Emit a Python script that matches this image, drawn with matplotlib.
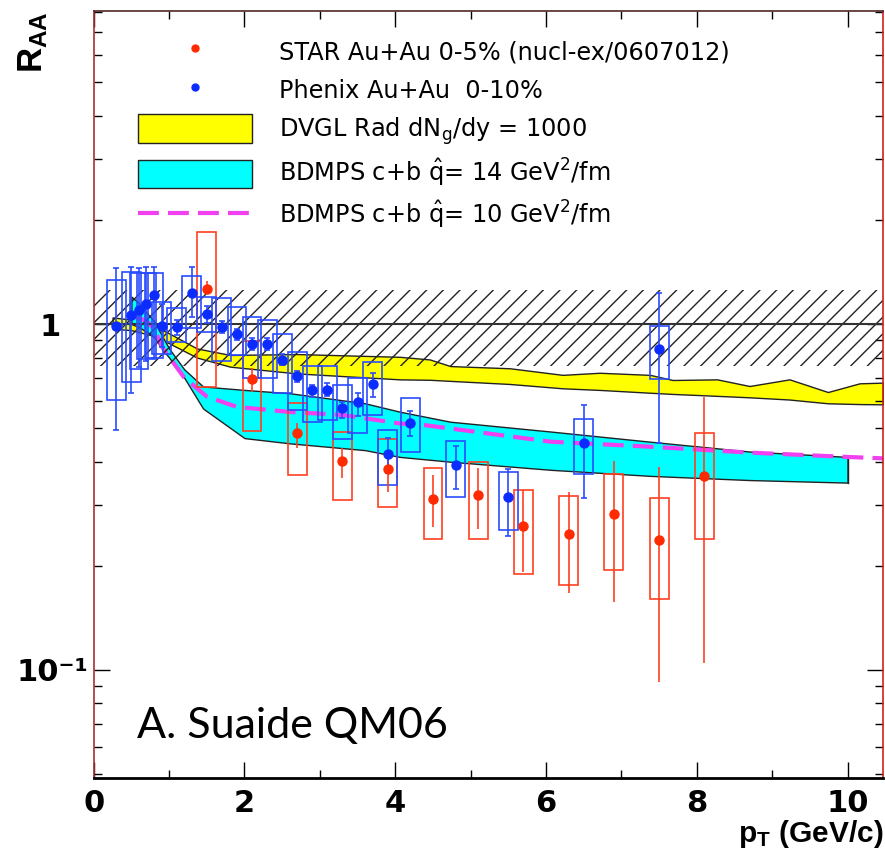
import numpy as np
import matplotlib
matplotlib.use("Agg")
import matplotlib.pyplot as plt
from matplotlib.lines import Line2D
from matplotlib.patches import Patch
from matplotlib.ticker import MultipleLocator, LogLocator, FixedLocator, FixedFormatter, NullFormatter

plt.rcParams['font.family'] = ['Liberation Sans', 'DejaVu Sans']
plt.rcParams['mathtext.fontset'] = 'custom'
plt.rcParams['mathtext.rm'] = 'DejaVu Sans'
plt.rcParams['mathtext.it'] = 'DejaVu Sans:italic'
plt.rcParams['mathtext.bf'] = 'Liberation Sans:bold'
plt.rcParams['hatch.linewidth'] = 1.0

# STAR Au+Au 0-5%
star_x = [1.5, 2.1, 2.7, 3.3, 3.9, 4.5, 5.1, 5.7, 6.3, 6.9, 7.5, 8.1]
star_y = [1.26, 0.694, 0.483, 0.402, 0.382, 0.313, 0.32, 0.26, 0.248, 0.282, 0.238, 0.364]
star_stat_lo = [1.22, 0.637, 0.437, 0.358, 0.327, 0.259, 0.255, 0.192, 0.167, 0.157, 0.092, 0.105]
star_stat_hi = [1.33, 0.745, 0.516, 0.437, 0.423, 0.366, 0.383, 0.331, 0.327, 0.403, 0.385, 0.617]
star_sys_lo = [0.659, 0.491, 0.365, 0.311, 0.296, 0.239, 0.239, 0.19, 0.176, 0.194, 0.16, 0.239]
star_sys_hi = [1.848, 0.893, 0.59, 0.488, 0.464, 0.383, 0.40, 0.331, 0.319, 0.368, 0.315, 0.483]

# PHENIX Au+Au 0-10%
phx_x = [0.3, 0.5, 0.6, 0.7, 0.8, 0.9, 1.1, 1.3, 1.5, 1.7, 1.9, 2.1, 2.3,
         2.5, 2.7, 2.9, 3.1, 3.3, 3.5, 3.7, 3.9, 4.2, 4.8, 5.5, 6.5, 7.5]
phx_y = [0.99, 1.06, 1.10, 1.14, 1.21, 0.99, 0.98, 1.23, 1.07, 0.98, 0.935, 0.873, 0.873,
         0.787, 0.708, 0.645, 0.645, 0.57, 0.594, 0.669, 0.42, 0.518, 0.391, 0.316, 0.452, 0.845]
phx_stat_lo = [0.494, 0.633, 0.75, 0.78, 0.80, 0.86, 0.93, 1.05, 1.01, 0.94, 0.90, 0.84, 0.84,
               0.76, 0.681, 0.614, 0.618, 0.534, 0.543, 0.616, 0.37, 0.474, 0.333, 0.244, 0.314, 0.452]
phx_stat_hi = [1.455, 1.465, 1.45, 1.46, 1.46, 1.14, 1.03, 1.465, 1.13, 1.02, 0.97, 0.91, 0.91,
               0.82, 0.733, 0.666, 0.676, 0.596, 0.631, 0.72, 0.467, 0.561, 0.445, 0.38, 0.583, 1.232]
phx_sys_lo = [0.603, 0.681, 0.74, 0.79, 0.80, 0.82, 0.89, 0.973, 0.95, 0.78, 0.814, 0.697, 0.697,
              0.633, 0.566, 0.522, 0.528, 0.465, 0.483, 0.546, 0.343, 0.427, 0.317, 0.254, 0.368, 0.695]
phx_sys_hi = [1.34, 1.416, 1.40, 1.40, 1.40, 1.16, 1.11, 1.376, 1.20, 1.19, 1.117, 1.045, 1.03,
              0.934, 0.828, 0.756, 0.756, 0.666, 0.697, 0.778, 0.495, 0.61, 0.46, 0.374, 0.53, 0.987]

# DVGL band
dvgl_x = [0.25, 0.5, 0.75, 1.0, 1.37, 1.81, 2.69, 4.06, 4.46, 4.73, 5.52, 6.22, 6.71,
          7.38, 7.68, 8.27, 8.70, 9.23, 9.74, 10.16, 10.47]
dvgl_hi = [1.045, 1.03, 1.0, 0.94, 0.85, 0.814, 0.819, 0.804, 0.79, 0.756, 0.745, 0.713, 0.723,
           0.713, 0.689, 0.692, 0.662, 0.692, 0.636, 0.674, 0.677]
dvgl_lo = [0.97, 0.96, 0.93, 0.88, 0.80, 0.753, 0.72, 0.692, 0.69, 0.685, 0.671, 0.652, 0.645,
           0.633, 0.628, 0.62, 0.614, 0.605, 0.59, 0.587, 0.586]

# BDMPS qhat = 14 band
b14_x = [0.5, 0.6, 0.7, 0.8, 0.9, 1.0, 1.2, 1.45, 2.0, 2.6, 3.6, 4.06, 4.73, 6.06, 7.38, 8.70, 10.0]
b14_hi = [1.2, 1.15, 1.08, 1.02, 0.93, 0.85, 0.74, 0.66, 0.645, 0.631, 0.59, 0.558, 0.522,
          0.489, 0.457, 0.428, 0.413]
b14_lo = [1.0, 0.98, 0.95, 0.92, 0.85, 0.80, 0.70, 0.57, 0.468, 0.452, 0.432, 0.413, 0.40,
          0.379, 0.364, 0.354, 0.348]

# BDMPS qhat = 10 curve
b10_x = [0.55, 0.7, 0.8, 0.92, 1.2, 1.5, 1.9, 2.6, 3.3, 4.06, 4.4, 6.06, 7.38, 8.70, 9.98, 10.47]
b10_y = [1.05, 1.02, 0.97, 0.85, 0.70, 0.617, 0.576, 0.557, 0.546, 0.516, 0.51, 0.457, 0.442,
         0.425, 0.413, 0.409]

# normalisation uncertainty
norm_x = [0.0, 10.47]
norm_lo = [0.755, 0.755]
norm_hi = [1.255, 1.255]

red = '#ff2a00'
blue = '#0a2cff'

fig = plt.figure(figsize=(8.85, 8.58), dpi=100)
ax = fig.add_axes([0.1059, 0.0932, 0.8918, 0.8943])
ax.set_yscale('log')
ax.set_xlim(0, 10.47)
ax.set_ylim(0.0487, 8.05)

ax.fill_between(dvgl_x, dvgl_lo, dvgl_hi, facecolor='#ffff00', edgecolor='#222222', lw=1.0, zorder=1)
ax.fill_between(b14_x, b14_lo, b14_hi, facecolor='#00ffff', edgecolor='#222222', lw=1.0, zorder=1.1)
ax.plot([b14_x[-1], b14_x[-1]], [b14_lo[-1], b14_hi[-1]], color='#222222', lw=1.0, zorder=1.1)
ax.plot(b10_x, b10_y, color='#f040f0', lw=3, dashes=(5, 2.2), zorder=1.2)
ax.fill_between(norm_x, norm_lo, norm_hi, facecolor='none', edgecolor='#222222', hatch='//', lw=0, zorder=2)
ax.axhline(1.0, color='#333333', lw=1.5, zorder=2.5)

sx = np.array(star_x)
sy = np.array(star_y)
px = np.array(phx_x)
py = np.array(phx_y)

ax.bar(sx, np.array(star_sys_hi) - np.array(star_sys_lo), bottom=star_sys_lo, width=0.25,
       fill=False, edgecolor='#ff4020', lw=1.2, zorder=3)
ax.bar(px, np.array(phx_sys_hi) - np.array(phx_sys_lo), bottom=phx_sys_lo, width=0.25,
       fill=False, edgecolor='#2a4cff', lw=1.2, zorder=3)
ax.errorbar(sx, sy, yerr=[sy - np.array(star_stat_lo), np.array(star_stat_hi) - sy],
            fmt='o', ms=6.5, color=red, ecolor='#ff4020', elinewidth=1.2, capsize=0, zorder=4)
ax.errorbar(px, py, yerr=[py - np.array(phx_stat_lo), np.array(phx_stat_hi) - py],
            fmt='o', ms=6.5, color=blue, ecolor='#2a4cff', elinewidth=1.2, capsize=2.5,
            capthick=1.2, zorder=4)

# axes style
ax.xaxis.set_major_locator(MultipleLocator(2))
ax.xaxis.set_minor_locator(MultipleLocator(1))
ax.yaxis.set_major_locator(FixedLocator([0.1, 1.0]))
ax.yaxis.set_major_formatter(FixedFormatter(['10\u207b\u00b9', '1  \u2009']))
ax.yaxis.set_minor_locator(LogLocator(subs=np.arange(2, 10)))
ax.yaxis.set_minor_formatter(NullFormatter())
ax.tick_params(which='both', direction='in', top=True, right=True, width=1.0)
ax.tick_params(which='major', length=11.5)
ax.tick_params(which='minor', length=6)
ax.tick_params(axis='x', pad=8)
ax.tick_params(axis='y', pad=4)
for lab in ax.get_xticklabels() + ax.get_yticklabels():
    lab.set_fontsize(22)
    lab.set_fontweight('bold')
    lab.set_family('DejaVu Sans')

ax.spines['bottom'].set_linewidth(2.0)
ax.spines['left'].set_color('#a83030')
ax.spines['right'].set_color('#d02020')
ax.spines['top'].set_color('#502828')
for s in ['left', 'right', 'top']:
    ax.spines[s].set_linewidth(1.2)

ax.set_xlabel(r'$\mathbf{p_{T}}$ (GeV/c)', fontsize=21.5, fontweight='bold', loc='right')
ax.xaxis.set_label_coords(1.0, -0.052)
ax.xaxis.label.set_va('top')
ax.set_ylabel(r'$\mathbf{R_{AA}}$', fontsize=25, loc='top')
ax.yaxis.set_label_coords(-0.056, 1.0)

ax.text(0.0549, 0.0517, 'A. Suaide QM06', transform=ax.transAxes, fontsize=31,
        family='Lato', va='baseline', ha='left')

handles = [
    Line2D([], [], ls='none', marker='o', ms=5, color=red),
    Line2D([], [], ls='none', marker='o', ms=5, color=blue),
    Patch(facecolor='#ffff00', edgecolor='#222222', lw=1.0),
    Patch(facecolor='#00ffff', edgecolor='#222222', lw=1.0),
    Line2D([], [], color='#f040f0', lw=3, dashes=(5, 2.2)),
]
labels = [
    'STAR Au+Au 0-5% (nucl-ex/0607012)',
    'Phenix Au+Au  0-10%',
    r'DVGL Rad dN$_{\mathrm{g}}$/dy = 1000',
    r'BDMPS c+b $\hat{\mathrm{q}}$= 14 GeV$^{2}$/fm',
    r'BDMPS c+b $\hat{\mathrm{q}}$= 10 GeV$^{2}$/fm',
]
ax.legend(handles, labels, loc='upper left', bbox_to_anchor=(0.0561, 0.9655), frameon=False,
          prop={'family': 'DejaVu Sans', 'size': 17.3}, borderpad=0, borderaxespad=0,
          handlelength=4.75, handleheight=1.45, handletextpad=1.1, labelspacing=0.42)

fig.savefig('out.png', dpi=100)
